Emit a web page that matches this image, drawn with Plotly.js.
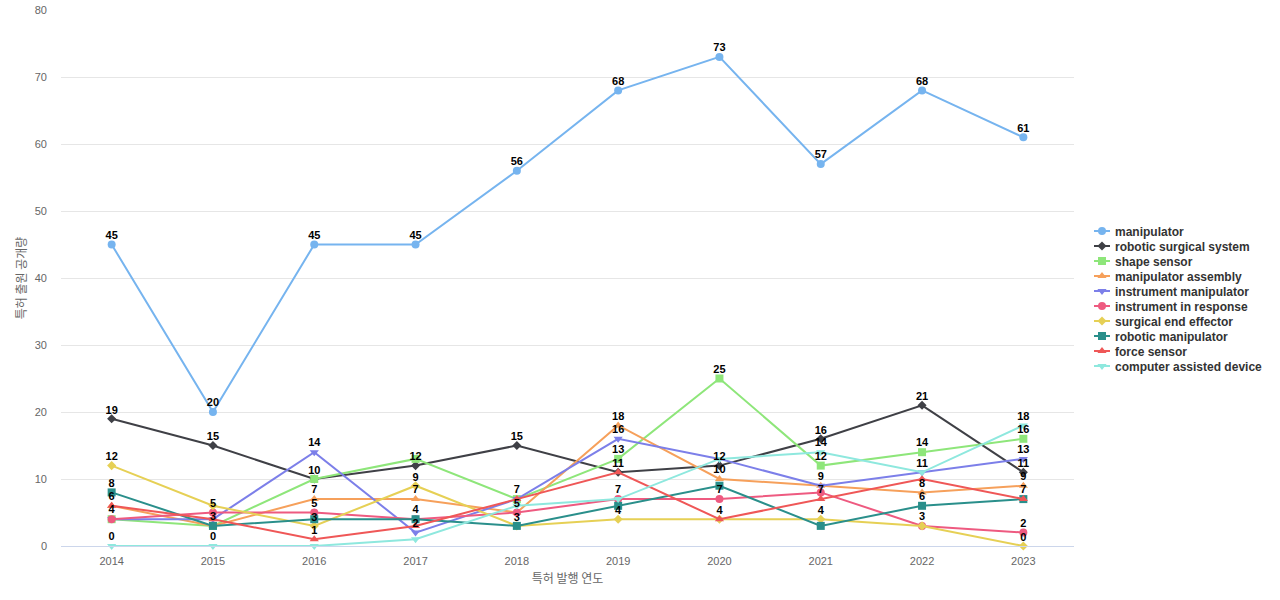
<!DOCTYPE html>
<html>
<head>
<meta charset="utf-8">
<script src="https://cdn.plot.ly/plotly-3.0.1.min.js"></script>
<style>html,body{margin:0;padding:0;background:#fff;}#chart{width:1280px;height:600px;}</style>
</head>
<body>
<div id="chart"></div>
<script>
const years = ['2014','2015','2016','2017','2018','2019','2020','2021','2022','2023'];
const seriesNames = ['manipulator','robotic surgical system','shape sensor','manipulator assembly','instrument manipulator','instrument in response','surgical end effector','robotic manipulator','force sensor','computer assisted device'];
const manipulator = [45,20,45,45,56,68,73,57,68,61];
const roboticSurgicalSystem = [19,15,10,12,15,11,12,16,21,11];
const shapeSensor = [4,3,10,13,7,13,25,12,14,16];
const manipulatorAssembly = [6,3,7,7,5,18,10,9,8,9];
const instrumentManipulator = [4,4,14,2,7,16,13,9,11,13];
const instrumentInResponse = [4,5,5,4,5,7,7,8,3,2];
const surgicalEndEffector = [12,6,3,9,3,4,4,4,3,0];
const roboticManipulator = [8,3,4,4,3,6,9,3,6,7];
const forceSensor = [6,4,1,3,7,11,4,7,10,7];
const computerAssistedDevice = [0,0,0,1,6,7,13,14,11,18];

const values = [manipulator,roboticSurgicalSystem,shapeSensor,manipulatorAssembly,instrumentManipulator,instrumentInResponse,surgicalEndEffector,roboticManipulator,forceSensor,computerAssistedDevice];
const colors = ['#76b4ef','#3f4046','#8ee67a','#f6a05b','#7c7fe9','#ee5a80','#e6d055','#2a8f8b','#ef5757','#8ee8de'];
const symbols = ['circle','diamond','square','triangle-up','triangle-down','circle','diamond','square','triangle-up','triangle-down'];

const W = 1280, H = 600;
const margin = {l:61, r:206, t:10, b:54, autoexpand: false};
const yMax = 80;
const pxPerUnit = (H - margin.t - margin.b) / yMax;
const labelHeight = 12;

// hide overlapping labels (earlier series take priority)
const texts = values.map(v => v.map(() => ''));
for (let j = 0; j < years.length; j++) {
  const placed = [];
  for (let i = 0; i < values.length; i++) {
    const py = values[i][j] * pxPerUnit;
    if (placed.every(p => Math.abs(p - py) >= labelHeight)) {
      placed.push(py);
      texts[i][j] = String(values[i][j]);
    }
  }
}

const traces = values.map((v, i) => ({
  type: 'scatter',
  mode: 'lines+markers+text',
  name: seriesNames[i],
  x: years,
  y: v,
  text: texts[i],
  textposition: 'top center',
  textfont: {family: 'Liberation Sans, Arial, sans-serif', size: 11, color: '#000', weight: 'bold'},
  line: {color: colors[i], width: 2},
  marker: {color: colors[i], symbol: symbols[i], size: (symbols[i]==='diamond') ? 7 : 8},
  cliponaxis: false,
  hoverinfo: 'x+y+name'
}));

const layout = {
  width: W, height: H,
  margin: margin,
  paper_bgcolor: '#fff', plot_bgcolor: '#fff',
  font: {family: 'Liberation Sans, Arial, sans-serif', color: '#666'},
  showlegend: true,
  legend: {
    x: 1.01, xanchor: 'left', y: 0.5, yanchor: 'middle',
    font: {size: 12, color: '#333', weight: 'bold'},
    itemwidth: 30, tracegroupgap: 0, bgcolor: 'rgba(0,0,0,0)'
  },
  xaxis: {
    type: 'category', range: [-0.5, 9.5],
    showgrid: false, zeroline: false,
    showline: true, linecolor: '#ccd6eb', linewidth: 1,
    ticks: '', tickfont: {size: 11, color: '#666'},
    ticklabelstandoff: 5,
    title: {text: '특허 발행 연도', font: {family: 'Noto Sans CJK KR, sans-serif', size: 12, color: '#666'}, standoff: 8}
  },
  yaxis: {
    range: [0, 80], dtick: 10,
    showgrid: true, gridcolor: '#e6e6e6', gridwidth: 1,
    zeroline: false, showline: false, ticks: '',
    tickfont: {size: 11, color: '#666'},
    ticklabelstandoff: 13,
    title: {text: '특허 출원 공개량', font: {family: 'Noto Sans CJK KR, sans-serif', size: 12, color: '#666'}, standoff: 5}
  }
};

const parseT = el => {
  const m = /translate\(\s*([-\d.e]+)[ ,]+([-\d.e]+)\s*\)/.exec(el.getAttribute('transform') || '');
  return m ? [parseFloat(m[1]), parseFloat(m[2])] : null;
};

Plotly.newPlot('chart', traces, layout, {displayModeBar: false, staticPlot: true}).then(gd => {
  // data labels: slightly closer to their points, and drawn above all lines
  const layer = gd.querySelector('.scatterlayer');
  const top = document.createElementNS('http://www.w3.org/2000/svg', 'g');
  top.setAttribute('class', 'labels-top');
  Array.from(gd.querySelectorAll('.scatterlayer .textpoint')).forEach(g => {
    const t = g.querySelector('text');
    if (t) {
      const y = parseFloat(t.getAttribute('y'));
      if (!isNaN(y)) t.setAttribute('y', String(y + 3));
      t.querySelectorAll('tspan').forEach(s => {
        const sy = parseFloat(s.getAttribute('y'));
        if (!isNaN(sy)) s.setAttribute('y', String(sy + 3));
      });
    }
    top.appendChild(g);
  });
  if (layer) layer.appendChild(top);

  // compact legend: 15px rows, short line sample
  const items = Array.from(gd.querySelectorAll('.legend .traces'));
  if (!items.length) return;
  const p0 = parseT(items[0]) || [0, 0];
  const x0 = p0[0], y0 = p0[1];
  items.forEach((el, i) => {
    el.setAttribute('transform', `translate(${x0},${y0 + i * 15})`);
    el.querySelectorAll('.legendlines path').forEach(p => p.setAttribute('d', 'M12,0h16'));
    const t = el.querySelector('.legendtext');
    if (t) t.setAttribute('x', '33');
  });
  const pt = items[0].querySelector('.legendpoints path') || items[0];
  const r = pt.getBoundingClientRect();
  const dx = 1102 - (r.left + r.width / 2);
  const dy = 231 - (r.top + r.height / 2);
  items.forEach((el, i) => {
    el.setAttribute('transform', `translate(${x0 + dx},${y0 + i * 15 + dy})`);
  });
  const clip = gd.querySelector('.legend').closest('svg').querySelectorAll('clipPath[id^="legend"] rect');
  clip.forEach(c => { c.setAttribute('height', '1000'); c.setAttribute('y', '-500'); c.setAttribute('width', '1000'); c.setAttribute('x', '-500'); });
});
</script>
</body>
</html>
